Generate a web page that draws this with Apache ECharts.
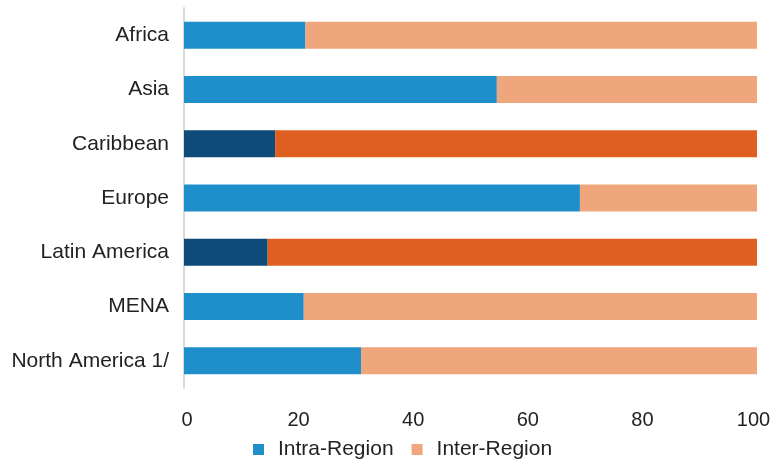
<!DOCTYPE html>
<html>
<head>
<meta charset="utf-8">
<script src="https://cdn.jsdelivr.net/npm/echarts@6/dist/echarts.min.js"></script>
<style>
html,body{margin:0;padding:0;background:#fff;}
#chart{width:772px;height:459px;}
</style>
</head>
<body>
<div id="chart"></div>
<script>
var categories = ["Africa", "Asia", "Caribbean", "Europe", "Latin America", "MENA", "North America 1/"];
var intraRegion = [21.2, 54.6, 15.9, 69.1, 14.6, 20.9, 30.9];
var interRegion = [78.8, 45.4, 84.1, 30.9, 85.4, 79.1, 69.1];
var xTicks = [0, 20, 40, 60, 80, 100];
var highlighted = ["Caribbean", "Latin America"];

var intraColor = "#1f8fcb", intraDark = "#0f4b78";
var interColor = "#f0a67c", interDark = "#de5f20";

function build(vals, base, dark) {
  return vals.map(function (v, i) {
    var hl = highlighted.indexOf(categories[i]) >= 0;
    return { value: v, itemStyle: { color: hl ? dark : base } };
  });
}

var FONT = 'Liberation Sans, Arial, sans-serif';
var chart = echarts.init(document.getElementById('chart'), null, { renderer: 'canvas' });
chart.setOption({
  animation: false,
  backgroundColor: '#ffffff',
  textStyle: { fontFamily: FONT },
  grid: { left: 184, right: 15, top: 8, bottom: 71, containLabel: false, outerBoundsMode: 'none' },
  legend: {
    top: 434,
    left: 248,
    icon: 'rect',
    itemWidth: 11,
    itemHeight: 11,
    itemGap: 18,
    textStyle: { fontSize: 21, color: '#222', fontFamily: FONT, padding: [0, 0, 0, 9] },
    data: [
      { name: 'Intra-Region', itemStyle: { color: intraColor } },
      { name: 'Inter-Region', itemStyle: { color: interColor } }
    ]
  },
  xAxis: {
    type: 'value',
    min: 0, max: 100, interval: 20,
    axisLine: { show: false },
    axisTick: { show: false },
    splitLine: { show: false },
    axisLabel: {
      fontSize: 20, color: '#222', margin: 22,
      formatter: function (v) {
        if (xTicks.indexOf(v) < 0) return '';
        if (v === xTicks[0]) return '{first|' + v + '}';
        if (v === xTicks[xTicks.length - 1]) return '{last|' + v + '}';
        return String(v);
      },
      rich: {
        first: { fontSize: 20, color: '#222', fontFamily: FONT, padding: [0, 0, 0, 6] },
        last: { fontSize: 20, color: '#222', fontFamily: FONT, padding: [0, 7, 0, 0] }
      }
    }
  },
  yAxis: {
    type: 'category',
    data: categories,
    inverse: true,
    axisLine: { show: true, lineStyle: { color: '#d9d9d9', width: 2 } },
    axisTick: { show: false },
    axisLabel: { fontSize: 21, color: '#222', margin: 15 }
  },
  series: [
    { name: 'Intra-Region', type: 'bar', stack: 'total', barWidth: 27, color: intraColor,
      data: build(intraRegion, intraColor, intraDark) },
    { name: 'Inter-Region', type: 'bar', stack: 'total', barWidth: 27, color: interColor,
      data: build(interRegion, interColor, interDark) }
  ]
});
</script>
</body>
</html>
